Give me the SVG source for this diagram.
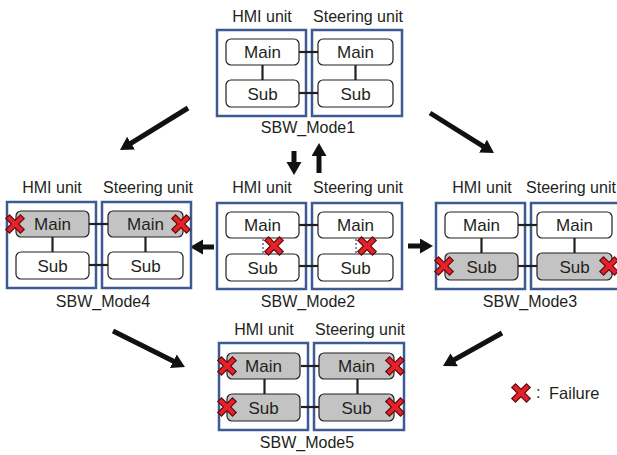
<svg xmlns="http://www.w3.org/2000/svg" xmlns:xlink="http://www.w3.org/1999/xlink" width="617" height="455" viewBox="0 0 617 455">
<style>
text{font-family:"Liberation Sans",Arial,sans-serif;fill:#231f20}
.lbl{font-size:16px;text-anchor:middle}
.mn{font-size:16px;text-anchor:middle}
.nt{font-size:17px;text-anchor:middle}
.unit{fill:#fff;stroke:#3d5a92;stroke-width:2.5}
.nd{fill:#fff;stroke:#231f20;stroke-width:1.2}
.fail{fill:#c3c3c3}
.ln{stroke:#231f20;stroke-width:2.2;fill:none}
.dash{stroke:#231f20;stroke-width:1;stroke-dasharray:2 2;fill:none}
.arr{stroke:#111;stroke-width:5;fill:none;marker-end:url(#ah)}
</style>
<defs>
<marker id="ah" markerUnits="userSpaceOnUse" markerWidth="14" markerHeight="16" refX="7" refY="7.5" orient="auto">
<path d="M0,0 L13,7.5 L0,15 z" fill="#111"/>
</marker>
<g id="fx">
<path d="M-5.5,-5.5 L5.5,5.5 M5.5,-5.5 L-5.5,5.5" stroke="#5a1010" stroke-width="6.5" stroke-linecap="square"/>
<path d="M-5.5,-5.5 L5.5,5.5 M5.5,-5.5 L-5.5,5.5" stroke="#e8202a" stroke-width="4" stroke-linecap="square"/>
</g>
</defs>

<g id="connectors">
<line class="arr" x1="188" y1="108" x2="125.1" y2="146.8"/>
<line class="arr" x1="430" y1="113" x2="488.9" y2="149.8"/>
<line class="arr" x1="294" y1="151" x2="294" y2="169"/>
<line class="arr" x1="319" y1="173" x2="319" y2="149"/>
<line class="arr" x1="214" y1="247" x2="196" y2="247"/>
<line class="arr" x1="408" y1="246" x2="427" y2="246"/>
<line class="arr" x1="113" y1="331" x2="179.6" y2="364.3"/>
<line class="arr" x1="502" y1="333" x2="448.2" y2="363.1"/>
</g>

<g id="mode1" transform="translate(217,30)">
<text class="lbl" x="45" y="-8">HMI unit</text>
<text class="lbl" x="141" y="-8">Steering unit</text>
<rect class="unit" x="0" y="0" width="89" height="86"/>
<rect class="unit" x="95" y="0" width="90" height="86"/>
<line class="ln" x1="82" y1="22" x2="101" y2="22"/>
<line class="ln" x1="82" y1="63" x2="101" y2="63"/>
<line class="ln" x1="45.5" y1="35" x2="45.5" y2="50"/>
<line class="ln" x1="138.5" y1="35" x2="138.5" y2="50"/>
<rect class="nd" x="9" y="9" width="73" height="26" rx="5"/>
<rect class="nd" x="9" y="50" width="73" height="27" rx="5"/>
<rect class="nd" x="101" y="9" width="75" height="26" rx="5"/>
<rect class="nd" x="101" y="50" width="75" height="27" rx="5"/>
<text class="nt" x="45.5" y="28">Main</text>
<text class="nt" x="45.5" y="69.5">Sub</text>
<text class="nt" x="138.5" y="28">Main</text>
<text class="nt" x="138.5" y="69.5">Sub</text>
<text class="mn" x="91" y="103">SBW_Mode1</text>
</g>

<g id="mode2" transform="translate(217,203)">
<text class="lbl" x="45" y="-10">HMI unit</text>
<text class="lbl" x="141" y="-10">Steering unit</text>
<rect class="unit" x="0" y="0" width="89" height="86"/>
<rect class="unit" x="95" y="0" width="90" height="86"/>
<line class="ln" x1="82" y1="22" x2="101" y2="22"/>
<line class="ln" x1="82" y1="63" x2="101" y2="63"/>
<line class="dash" x1="46" y1="36" x2="46" y2="51"/>
<line class="dash" x1="139" y1="36" x2="139" y2="51"/>
<rect class="nd" x="9" y="9" width="73" height="26" rx="5"/>
<rect class="nd" x="9" y="51" width="73" height="27" rx="5"/>
<rect class="nd" x="101" y="9" width="75" height="26" rx="5"/>
<rect class="nd" x="101" y="51" width="75" height="27" rx="5"/>
<text class="nt" x="45.5" y="28">Main</text>
<text class="nt" x="45.5" y="70.5">Sub</text>
<text class="nt" x="138.5" y="28">Main</text>
<text class="nt" x="138.5" y="70.5">Sub</text>
<use xlink:href="#fx" x="57" y="43"/>
<use xlink:href="#fx" x="150" y="43"/>
<text class="mn" x="91" y="104">SBW_Mode2</text>
</g>

<g id="mode4" transform="translate(7,202)">
<text class="lbl" x="45" y="-9">HMI unit</text>
<text class="lbl" x="141" y="-9">Steering unit</text>
<rect class="unit" x="0" y="0" width="89" height="86"/>
<rect class="unit" x="95" y="0" width="89" height="86"/>
<line class="ln" x1="82" y1="22" x2="101" y2="22"/>
<line class="ln" x1="82" y1="63" x2="101" y2="63"/>
<line class="ln" x1="45.5" y1="35" x2="45.5" y2="50"/>
<line class="ln" x1="138.5" y1="35" x2="138.5" y2="50"/>
<rect class="nd fail" x="9" y="9" width="73" height="26" rx="5"/>
<rect class="nd" x="9" y="50" width="73" height="27" rx="5"/>
<rect class="nd fail" x="101" y="9" width="75" height="26" rx="5"/>
<rect class="nd" x="101" y="50" width="75" height="27" rx="5"/>
<text class="nt" x="45.5" y="28">Main</text>
<text class="nt" x="45.5" y="69.5">Sub</text>
<text class="nt" x="138.5" y="28">Main</text>
<text class="nt" x="138.5" y="69.5">Sub</text>
<use xlink:href="#fx" x="8" y="22"/>
<use xlink:href="#fx" x="174" y="22"/>
<text class="mn" x="96" y="105">SBW_Mode4</text>
</g>

<g id="mode3" transform="translate(436,203)">
<text class="lbl" x="46" y="-10">HMI unit</text>
<text class="lbl" x="135" y="-10">Steering unit</text>
<rect class="unit" x="0" y="0" width="89" height="86"/>
<rect class="unit" x="95" y="0" width="89" height="86"/>
<line class="ln" x1="82" y1="22" x2="101" y2="22"/>
<line class="ln" x1="82" y1="63" x2="101" y2="63"/>
<line class="ln" x1="45.5" y1="35" x2="45.5" y2="50"/>
<line class="ln" x1="138.5" y1="35" x2="138.5" y2="50"/>
<rect class="nd" x="9" y="9" width="73" height="26" rx="5"/>
<rect class="nd fail" x="9" y="50" width="73" height="27" rx="5"/>
<rect class="nd" x="101" y="9" width="75" height="26" rx="5"/>
<rect class="nd fail" x="101" y="50" width="75" height="27" rx="5"/>
<text class="nt" x="45.5" y="28">Main</text>
<text class="nt" x="45.5" y="69.5">Sub</text>
<text class="nt" x="138.5" y="28">Main</text>
<text class="nt" x="138.5" y="69.5">Sub</text>
<use xlink:href="#fx" x="8" y="63"/>
<use xlink:href="#fx" x="173" y="63"/>
<text class="mn" x="94" y="104">SBW_Mode3</text>
</g>

<g id="mode5" transform="translate(219,343)">
<text class="lbl" x="45" y="-8">HMI unit</text>
<text class="lbl" x="141" y="-8">Steering unit</text>
<rect class="unit" x="0" y="0" width="89" height="87"/>
<rect class="unit" x="95" y="0" width="90" height="87"/>
<line class="ln" x1="82" y1="23" x2="101" y2="23"/>
<line class="ln" x1="82" y1="64" x2="101" y2="64"/>
<line class="ln" x1="45.5" y1="36" x2="45.5" y2="51"/>
<line class="ln" x1="138.5" y1="36" x2="138.5" y2="51"/>
<rect class="nd fail" x="8" y="10" width="73" height="26" rx="5"/>
<rect class="nd fail" x="8" y="51" width="73" height="27" rx="5"/>
<rect class="nd fail" x="100" y="10" width="75" height="26" rx="5"/>
<rect class="nd fail" x="100" y="51" width="75" height="27" rx="5"/>
<text class="nt" x="44.5" y="29">Main</text>
<text class="nt" x="44.5" y="70.5">Sub</text>
<text class="nt" x="137.5" y="29">Main</text>
<text class="nt" x="137.5" y="70.5">Sub</text>
<use xlink:href="#fx" x="8" y="23"/>
<use xlink:href="#fx" x="176" y="23"/>
<use xlink:href="#fx" x="8" y="64"/>
<use xlink:href="#fx" x="176" y="64"/>
<text class="mn" x="88" y="105">SBW_Mode5</text>
</g>

<g id="legend">
<use xlink:href="#fx" x="521" y="393"/>
<text x="536" y="398" style="font-size:16px">:</text>
<text x="549" y="399" style="font-size:16.5px">Failure</text>
</g>
</svg>
